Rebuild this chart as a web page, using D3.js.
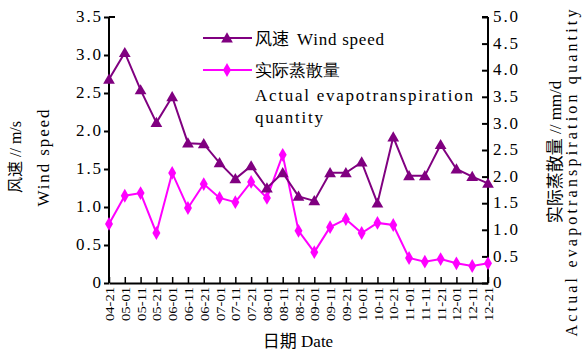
<!DOCTYPE html>
<html><head><meta charset="utf-8">
<script src="https://cdn.jsdelivr.net/npm/d3@7"></script>
<style>body{margin:0;background:#fff}svg{display:block}text{font-family:"Liberation Serif",serif}</style>
</head><body><svg id="c" width="582" height="353"></svg>
<script>
const dates = ["04-21","05-01","05-11","05-21","06-01","06-11","06-21","07-01","07-11","07-21","08-01","08-11","08-21","09-01","09-11","09-21","10-01","10-11","10-21","11-01","11-11","11-21","12-01","12-11","12-21"];
const windSpeed = [2.68,3.03,2.54,2.11,2.45,1.84,1.83,1.58,1.37,1.54,1.25,1.45,1.14,1.08,1.45,1.45,1.59,1.05,1.92,1.41,1.41,1.82,1.50,1.40,1.31];
const evapo = [1.11,1.64,1.69,0.94,2.07,1.41,1.86,1.60,1.52,1.90,1.60,2.41,0.98,0.58,1.05,1.20,0.94,1.13,1.09,0.47,0.40,0.45,0.37,0.32,0.37];
const leftTicks = [0,0.5,1.0,1.5,2.0,2.5,3.0,3.5];
const rightTicks = [0,0.5,1.0,1.5,2.0,2.5,3.0,3.5,4.0,4.5,5.0];

const svg = d3.select("#c");
const X0 = 109, X1 = 488, Y0 = 283, Y1 = 17;
const x = d3.scalePoint().domain(dates).range([X0, X1]);
const yL = d3.scaleLinear().domain([0, 3.5]).range([Y0, Y1]);
const yR = d3.scaleLinear().domain([0, 5]).range([Y0, Y1]);
const fmt = d => d === 0 ? "0" : d3.format(".1f")(d);
const windC = "#800080", evC = "#ff00ff";

// left axis
const gL = svg.append("g").attr("transform", `translate(${X0},0)`)
  .call(d3.axisLeft(yL).tickValues(leftTicks).tickSize(5).tickPadding(3).tickFormat(fmt));
gL.select(".domain").attr("stroke", "#000").attr("stroke-width", 2).attr("d", `M0,${Y1}H6M0,${Y1}V${Y0}`);
gL.selectAll(".tick line").attr("stroke-width", 2);
gL.selectAll(".tick text").attr("font-size", 17).attr("fill", "#000").attr("font-family", "Liberation Serif")
  .attr("textLength", d => d === 0 ? null : 25).attr("lengthAdjust", "spacing").attr("dy", "0.28em");

// right axis
const gR = svg.append("g").attr("transform", `translate(${X1},0)`)
  .call(d3.axisRight(yR).tickValues(rightTicks).tickSizeInner(-6).tickSizeOuter(0).tickPadding(5).tickFormat(fmt));
gR.select(".domain").attr("stroke", "#000").attr("stroke-width", 2).attr("d", `M0,${Y1}H-6M0,${Y1}V${Y0}`);
gR.selectAll(".tick line").attr("stroke-width", 2);
gR.selectAll(".tick text").attr("font-size", 17).attr("fill", "#000").attr("font-family", "Liberation Serif")
  .attr("textLength", d => d === 0 ? null : 25).attr("lengthAdjust", "spacing").attr("dy", "0.28em");

// bottom axis
const gB = svg.append("g").attr("transform", `translate(0,${Y0})`)
  .call(d3.axisBottom(x).tickSizeInner(-6).tickSizeOuter(0).tickPadding(0));
gB.select(".domain").attr("stroke", "#000").attr("stroke-width", 2);
gB.selectAll(".tick line").attr("stroke-width", 1.5);
gB.selectAll(".tick text").attr("font-size", 13).attr("fill", "#000").attr("font-family", "Liberation Serif")
  .attr("transform", "rotate(-90)").attr("text-anchor", "end").attr("x", -4).attr("y", 0).attr("dy", "0.35em")
  .attr("textLength", 34).attr("lengthAdjust", "spacingAndGlyphs");

// lines
const lineW = d3.line().x((d, i) => x(dates[i])).y(d => yL(d));
const lineE = d3.line().x((d, i) => x(dates[i])).y(d => yR(d));
svg.append("path").datum(evapo).attr("d", lineE).attr("fill", "none").attr("stroke", evC).attr("stroke-width", 2);
svg.append("path").datum(windSpeed).attr("d", lineW).attr("fill", "none").attr("stroke", windC).attr("stroke-width", 2);

const tri = d3.symbol().type(d3.symbolTriangle).size(60);
const dia = d3.symbol().type(d3.symbolDiamond).size(55);
svg.append("g").selectAll("path").data(evapo).join("path")
  .attr("d", dia).attr("fill", evC).attr("transform", (d, i) => `translate(${x(dates[i])},${yR(d)})`);
svg.append("g").selectAll("path").data(windSpeed).join("path")
  .attr("d", tri).attr("fill", windC).attr("transform", (d, i) => `translate(${x(dates[i])},${yL(d) + 1})`);

// legend
const lg = svg.append("g");
lg.append("line").attr("x1", 203).attr("x2", 252).attr("y1", 38).attr("y2", 38).attr("stroke", windC).attr("stroke-width", 2);
lg.append("path").attr("d", tri).attr("fill", windC).attr("transform", "translate(227,39)");
lg.append("line").attr("x1", 203).attr("x2", 252).attr("y1", 70).attr("y2", 70).attr("stroke", evC).attr("stroke-width", 2);
lg.append("path").attr("d", dia).attr("fill", evC).attr("transform", "translate(227,70)");
const lt1 = lg.append("text").attr("x", 255).attr("y", 45).attr("font-size", 17);
lt1.append("tspan").attr("font-family", "Noto Sans CJK SC").text("风速");
lt1.append("tspan").attr("dx", 8).text("Wind speed").attr("textLength", 87).attr("lengthAdjust", "spacing");
lg.append("text").attr("x", 255).attr("y", 76).attr("font-size", 17).attr("font-family", "Noto Sans CJK SC").text("实际蒸散量");
lg.append("text").attr("x", 255).attr("y", 101).attr("font-size", 17).text("Actual evapotranspiration").attr("textLength", 218).attr("lengthAdjust", "spacing");
lg.append("text").attr("x", 255).attr("y", 123).attr("font-size", 17).text("quantity").attr("textLength", 68).attr("lengthAdjust", "spacing");

// axis titles
const t1 = svg.append("text").attr("transform", "translate(21,157) rotate(-90)").attr("text-anchor", "middle").attr("font-size", 16);
t1.append("tspan").attr("font-family", "Noto Sans CJK SC").text("风速");
t1.append("tspan").text(" // m/s");
svg.append("text").attr("transform", "translate(49,158) rotate(-90)").attr("text-anchor", "middle").attr("font-size", 17)
  .text("Wind speed").attr("textLength", 97).attr("lengthAdjust", "spacing");
const t2 = svg.append("text").attr("transform", "translate(561,152) rotate(-90)").attr("text-anchor", "middle").attr("font-size", 17);
t2.append("tspan").attr("font-family", "Noto Sans CJK SC").text("实际蒸散量");
t2.append("tspan").text(" // mm/d");
svg.append("text").attr("transform", "translate(577,173) rotate(-90)").attr("text-anchor", "middle").attr("font-size", 16)
  .text("Actual evapotranspiration quantity").attr("textLength", 327).attr("lengthAdjust", "spacing");
const t3 = svg.append("text").attr("x", 298).attr("y", 347).attr("text-anchor", "middle").attr("font-size", 17);
t3.append("tspan").attr("font-family", "Noto Sans CJK SC").text("日期");
t3.append("tspan").text(" Date");
</script></body></html>
